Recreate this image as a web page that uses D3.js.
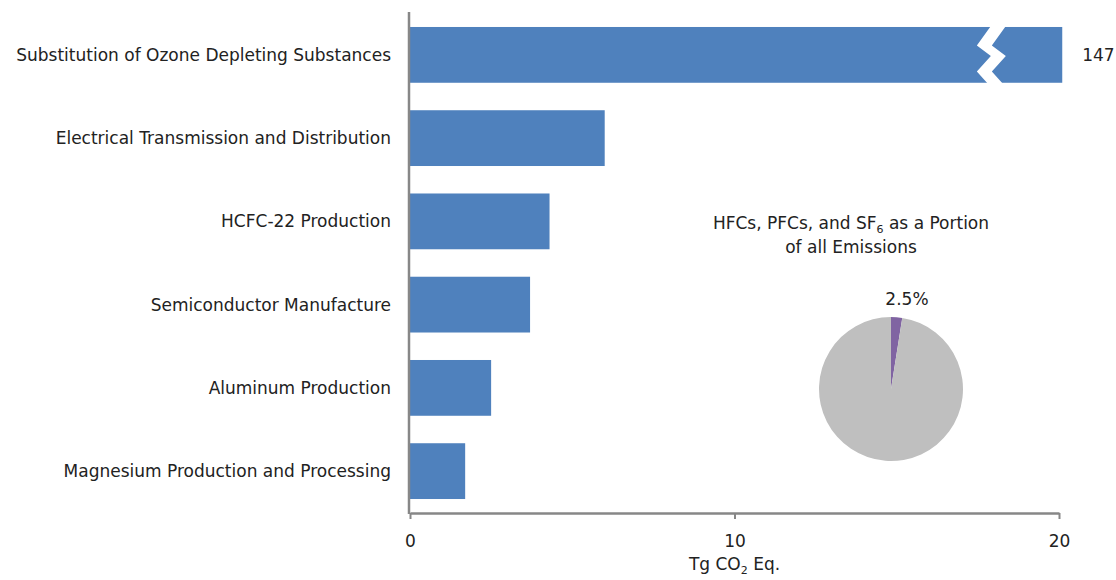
<!DOCTYPE html>
<html>
<head>
<meta charset="utf-8">
<script src="https://cdn.jsdelivr.net/npm/d3@7"></script>
<style>
  body { margin: 0; background: #fff; }
  text { font-family: "DejaVu Sans", Verdana, sans-serif; fill: #222; }
</style>
</head>
<body>
<div id="chart"></div>
<script>
// sources of emissions, Tg CO2 Eq.
var categories = [
  "Substitution of Ozone Depleting Substances",
  "Electrical Transmission and Distribution",
  "HCFC-22 Production",
  "Semiconductor Manufacture",
  "Aluminum Production",
  "Magnesium Production and Processing"
]
var values = [147, 6.0, 4.3, 3.7, 2.5, 1.7]
var xTicks = [0, 10, 20]
var breakCap = 20.1 // bars over this get cut with a break mark

// inset pie
var pieLabels = ["HFCs, PFCs, and SF6", "Other emissions"]
var pieValues = [2.5, 97.5]
var pieColors = ["#8064A2", "#BFBFBF"]

var width = 1116
var height = 580
var barColor = "#4F81BD"
var axisColor = "#878787"
var fs = "17px"

var svg = d3.select("#chart").append("svg")
    .attr("width", width)
    .attr("height", height)

var x = d3.scaleLinear().domain([0, 20]).range([410, 1059])
var y = d3.scaleBand().domain(categories).range([13, 513])
    .paddingInner(0.33).paddingOuter(0.168)

var rows = categories.map(function(c, i){ return {cat: c, val: values[i]} })

svg.selectAll("rect.bar")
    .data(rows)
    .enter().append("rect")
    .attr("class", "bar")
    .attr("x", x(0))
    .attr("y", function(d){ return y(d.cat) })
    .attr("width", function(d){ return x(Math.min(d.val, breakCap)) - x(0) })
    .attr("height", y.bandwidth())
    .style("fill", barColor)

// break marks and value labels for the cut bars
var cut = rows.filter(function(d){ return d.val > breakCap })
cut.forEach(function(d){
    var top = y(d.cat), h = y.bandwidth()
    var bx = x(17.9), amp = 14, gap = 15
    var left = [[bx, top - 1], [bx - amp, top + h*0.33], [bx, top + h*0.52],
                [bx - amp, top + h*0.8], [bx - 3, top + h + 1]]
    var right = left.map(function(p){ return [p[0] + gap, p[1]] }).reverse()
    svg.append("polygon")
        .attr("points", left.concat(right).map(function(p){ return p.join(",") }).join(" "))
        .style("fill", "#fff")
    svg.append("text")
        .attr("x", x(breakCap) + 20)
        .attr("y", top + h/2)
        .attr("dy", "0.35em")
        .style("font-size", fs)
        .text(d.val)
})

// category labels
svg.selectAll("text.cat")
    .data(categories)
    .enter().append("text")
    .attr("class", "cat")
    .attr("x", 391)
    .attr("y", function(d){ return y(d) + y.bandwidth()/2 })
    .attr("dy", "0.35em")
    .attr("text-anchor", "end")
    .style("font-size", fs)
    .text(function(d){ return d })

// axes
var xAxis = svg.append("g")
    .attr("transform", "translate(0,513)")
    .call(d3.axisBottom(x).tickValues(xTicks).tickSize(6).tickSizeOuter(0).tickPadding(16))
xAxis.select(".domain").attr("stroke", axisColor).attr("stroke-width", 2.5)
xAxis.selectAll(".tick line").attr("stroke", axisColor).attr("stroke-width", 2)
xAxis.selectAll(".tick text")
    .style("font-family", "'DejaVu Sans', Verdana, sans-serif")
    .style("font-size", fs)
    .attr("fill", "#222")

svg.append("line")
    .attr("x1", x(0) - 1).attr("x2", x(0) - 1)
    .attr("y1", 12).attr("y2", 514)
    .attr("stroke", axisColor)
    .attr("stroke-width", 2.5)

var xTitle = svg.append("text")
    .attr("x", x(10))
    .attr("y", 570)
    .attr("text-anchor", "middle")
    .style("font-size", fs)
xTitle.append("tspan").text("Tg CO")
xTitle.append("tspan").attr("dy", 4).style("font-size", "11px").text("2")
xTitle.append("tspan").attr("dy", -4).text(" Eq.")

// pie inset
var cx = 891, cy = 389, r = 72
var pieTitle = svg.append("text")
    .attr("x", 851)
    .attr("y", 229)
    .attr("text-anchor", "middle")
    .style("font-size", fs)
pieTitle.append("tspan").text("HFCs, PFCs, and SF")
pieTitle.append("tspan").attr("dy", 4).style("font-size", "11px").text("6")
pieTitle.append("tspan").attr("dy", -4).text(" as a Portion")
svg.append("text")
    .attr("x", 851)
    .attr("y", 253)
    .attr("text-anchor", "middle")
    .style("font-size", fs)
    .text("of all Emissions")

var pie = d3.pie().sort(null)
var arc = d3.arc().innerRadius(0).outerRadius(r)
var slices = pie(pieValues)
svg.append("g")
    .attr("transform", "translate(" + cx + "," + cy + ")")
    .selectAll("path")
    .data(slices)
    .enter().append("path")
    .attr("d", arc)
    .style("fill", function(d, i){ return pieColors[i] })

var lab = slices[0]
var mid = (lab.startAngle + lab.endAngle) / 2
svg.append("text")
    .attr("x", cx + Math.sin(mid) * (r + 4) + 10)
    .attr("y", cy - Math.cos(mid) * (r + 12))
    .attr("text-anchor", "middle")
    .style("font-size", fs)
    .text(pieValues[0] + "%")
</script>
</body>
</html>
